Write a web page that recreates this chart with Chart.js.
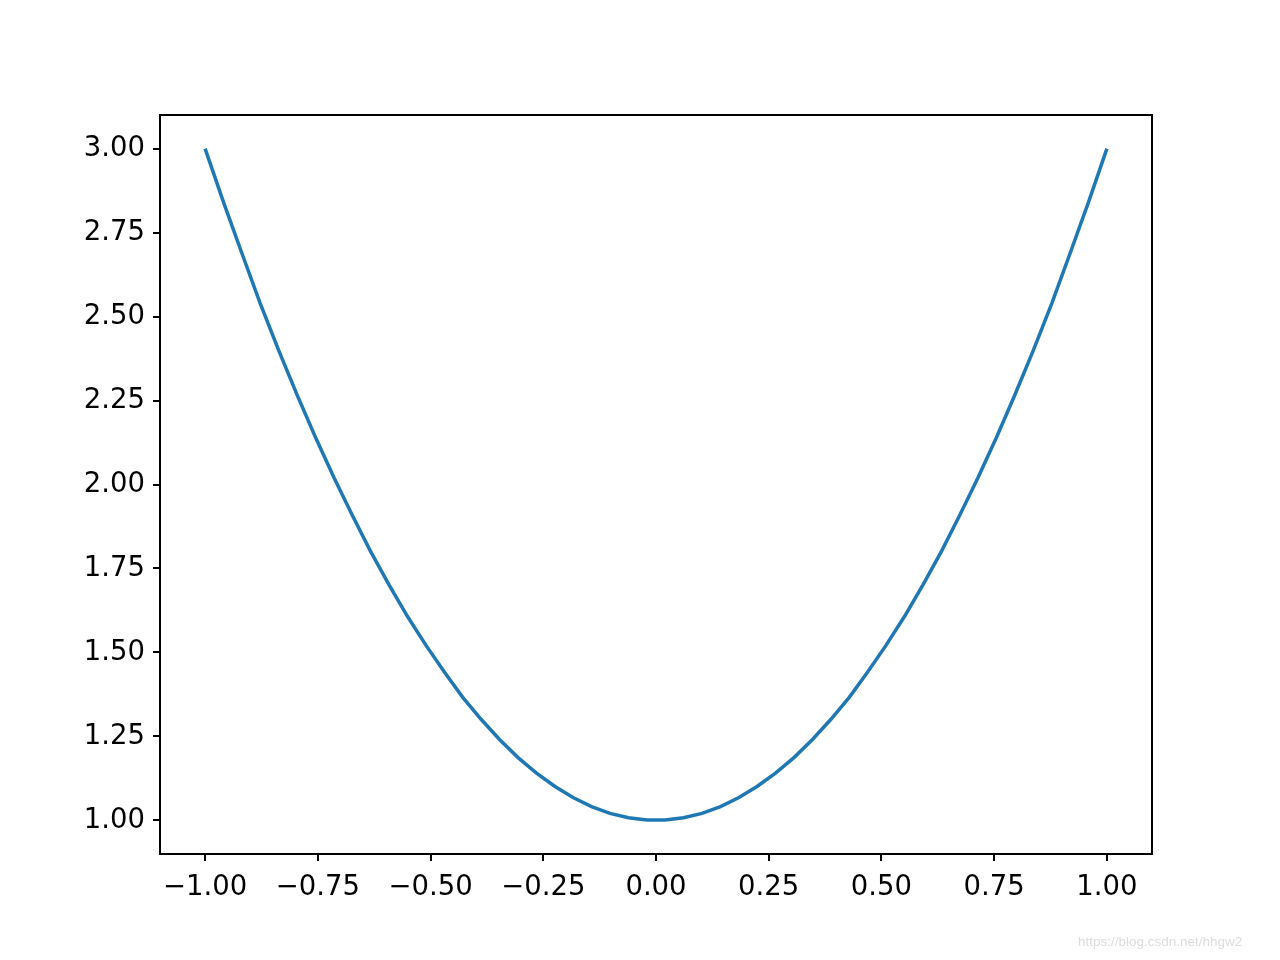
<!DOCTYPE html>
<html>
<head>
<meta charset="utf-8">
<script src="https://cdn.jsdelivr.net/npm/chart.js@4"></script>
<style>
  body { margin: 0; background: #fff; }
  #wrap { position: relative; width: 1280px; height: 960px; }
  #mark {
    position: absolute; left: 1078px; top: 934px;
    font: 13.5px "Liberation Sans", Arial, sans-serif; color: #dcdcdc;
  }
</style>
</head>
<body>
<div id="wrap">
  <canvas id="myChart" width="1280" height="960"></canvas>
  <div id="mark">https://blog.csdn.net/hhgw2</div>
</div>
<script>
const xValues = [
  -1.000, -0.959, -0.918, -0.878, -0.837, -0.796, -0.755, -0.714, -0.673, -0.633,
  -0.592, -0.551, -0.510, -0.469, -0.429, -0.388, -0.347, -0.306, -0.265, -0.224,
  -0.184, -0.143, -0.102, -0.061, -0.020,
  0.020, 0.061, 0.102, 0.143, 0.184, 0.224, 0.265, 0.306, 0.347, 0.388,
  0.429, 0.469, 0.510, 0.551, 0.592, 0.633, 0.673, 0.714, 0.755, 0.796,
  0.837, 0.878, 0.918, 0.959, 1.000,
];
const yValues = [
  3.000, 2.840, 2.687, 2.540, 2.400, 2.267, 2.140, 2.020, 1.907, 1.801,
  1.701, 1.607, 1.521, 1.441, 1.367, 1.301, 1.241, 1.187, 1.141, 1.101,
  1.068, 1.041, 1.021, 1.008, 1.001,
  1.001, 1.008, 1.021, 1.041, 1.068, 1.101, 1.141, 1.187, 1.241, 1.301,
  1.367, 1.441, 1.521, 1.607, 1.701, 1.801, 1.907, 2.020, 2.140, 2.267,
  2.400, 2.540, 2.687, 2.840, 3.000,
];
const xTicks = [-1.0, -0.75, -0.5, -0.25, 0, 0.25, 0.5, 0.75, 1.0];
const yTicks = [1.0, 1.25, 1.5, 1.75, 2.0, 2.25, 2.5, 2.75, 3.0];

const points = xValues.map((x, i) => ({ x: x, y: yValues[i] }));

function fmt(v) {
  return v < 0 ? "\u2212" + Math.abs(v).toFixed(2) : v.toFixed(2);
}

// matplotlib-style box round the plot area
const frame = {
  id: "frame",
  afterDraw(chart) {
    const a = chart.chartArea;
    const ctx = chart.ctx;
    ctx.save();
    ctx.strokeStyle = "#000";
    ctx.lineWidth = 2;
    ctx.strokeRect(a.left, a.top, a.right - a.left, a.bottom - a.top);
    ctx.restore();
  },
};

const tickFont = { family: "DejaVu Sans", size: 27.5 };

const ctx = document.getElementById("myChart").getContext("2d");
const lineChart = new Chart(ctx, {
  type: "scatter",
  data: {
    datasets: [
      {
        data: points,
        showLine: true,
        borderColor: "#1f77b4",
        borderWidth: 3.5,
        pointRadius: 0,
        tension: 0,
      },
    ],
  },
  options: {
    responsive: false,
    animation: false,
    layout: { padding: { top: 115, right: 128, left: 0, bottom: 0 } },
    plugins: {
      legend: { display: false },
      tooltip: { enabled: false },
    },
    scales: {
      x: {
        type: "linear",
        min: -1.1,
        max: 1.1,
        afterBuildTicks: (s) => { s.ticks = xTicks.map((v) => ({ value: v })); },
        afterFit: (s) => { s.height = 106; },
        grid: { drawOnChartArea: false, drawTicks: true, tickLength: 7, color: "#000", lineWidth: 2 },
        border: { display: true, color: "#000", width: 2 },
        ticks: { color: "#000", font: tickFont, padding: 10, maxRotation: 0, callback: (v) => fmt(v) },
      },
      y: {
        type: "linear",
        min: 0.9,
        max: 3.1,
        afterBuildTicks: (s) => { s.ticks = yTicks.map((v) => ({ value: v })); },
        afterFit: (s) => { s.width = 160; },
        grid: { drawOnChartArea: false, drawTicks: true, tickLength: 7, color: "#000", lineWidth: 2 },
        border: { display: true, color: "#000", width: 2 },
        ticks: { color: "#000", font: tickFont, padding: 8, callback: (v) => fmt(v) },
      },
    },
  },
  plugins: [frame],
});
</script>
</body>
</html>
